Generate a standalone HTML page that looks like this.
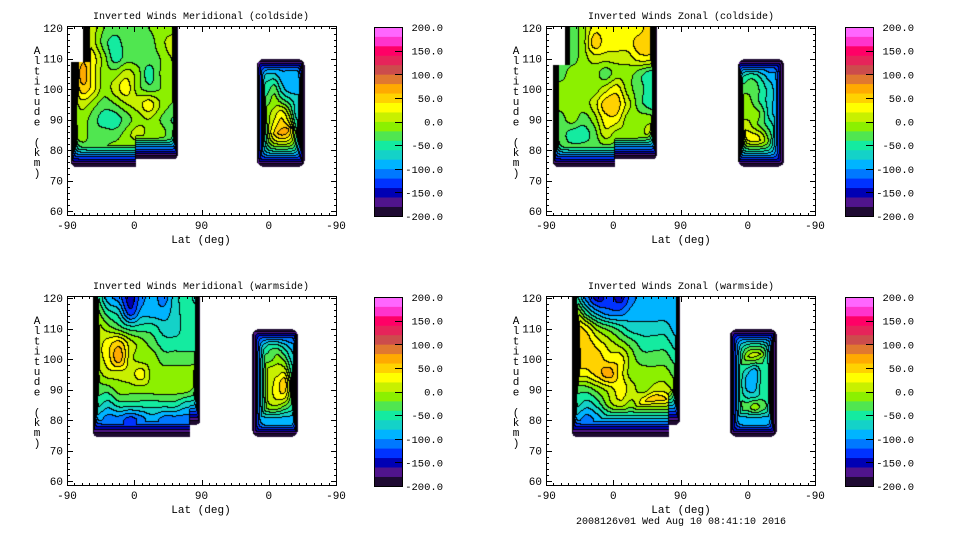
<!DOCTYPE html>
<html><head><meta charset="utf-8"><style>
html,body{margin:0;padding:0;background:#fff;}
#root{position:relative;width:960px;height:540px;overflow:hidden;background:#fff;font-family:"Liberation Mono","DejaVu Sans Mono",monospace;}
canvas{position:absolute;}
svg{position:absolute;left:0;top:0;}
</style></head><body>
<div id="root">
<svg id="svg" width="960" height="540"></svg>
</div>
<script>
// ---- shared scale data ----
const colorBands = ['#1e0a32','#50148c','#0000b4','#0032ff','#0078ff','#00b4ff','#14d2c8','#14eba0','#50e650','#8cf000','#c8f000','#ffff00','#ffd200','#ffaa00','#e07830','#cc4c4c','#e6245a','#ff0066','#ff33cc','#ff66ff'];
const cbarLabels = [200,150,100,50,0,-50,-100,-150,-200];
const yTicks = [60,70,80,90,100,110,120];
const xTickU = [0,90,180,270,360];
const xTickLabels = ['-90','0','90','0','-90'];
const panelTitles = ['Inverted Winds Meridional (coldside)','Inverted Winds Zonal (coldside)','Inverted Winds Meridional (warmside)','Inverted Winds Zonal (warmside)'];

// ---- TL: meridional coldside ----
const tlLeftU = [5,20,35,50,65,80,95,110,125,140,150];
const tlLeftAlt = [120,115,110,105,100,95,90,85,80];
const tlLeftVals = [
[-30,30,10,-20,-30,-20,-30,-20,-10,-10,-10],
[-30,30,10,-30,-50,-30,-30,-30,-10,10,10],
[-30,50,30,-10,-50,-30,-30,-30,-20,0,10],
[-30,70,30,-10,-10,10,-10,-50,-20,-10,-10],
[-30,50,30,-10,10,30,-10,-30,-20,-10,-10],
[-30,10,-10,-30,-20,0,10,30,0,-20,-20],
[-30,-10,-30,-50,-50,-30,-10,0,-20,-40,-40],
[-30,-10,-30,-30,-30,-10,10,-10,-10,-30,-30],
[-40,-30,-20,-20,-10,-10,-30,-40,-50,-50,-50]];
const tlRightU = [258,268,278,288,298,308];
const tlRightAlt = [108,104,100,96,92,88,84,80];
const tlRightVals = [
[-110,-110,-110,-110,-110,-110],
[-70,-70,-70,-90,-90,-90],
[-50,-50,-30,-70,-90,-90],
[-30,-30,-10,-30,-50,-70],
[-30,-10,10,30,-10,-70],
[-30,-10,30,50,30,-50],
[-30,10,50,90,110,-30],
[-30,10,50,70,50,-30]];

// ---- TR: zonal coldside ----
const trLeftU = [10,20,35,50,65,80,95,110,125,140,148];
const trLeftAlt = [120,115,110,105,100,95,90,85,80];
const trLeftVals = [
[-200,-50,-30,-10,30,30,30,20,30,50,30],
[-200,-50,-30,-10,50,30,30,30,50,50,30],
[-50,-30,-30,-10,10,10,10,10,30,30,10],
[-30,-30,-10,-10,-10,-30,-10,-10,-30,-50,-50],
[-10,-10,-10,-10,-10,10,30,-10,-30,-50,-50],
[-10,-10,-10,-10,10,50,50,10,-30,-50,-50],
[-30,-30,-10,-30,-10,30,30,-10,-10,-10,-30],
[-30,-30,-50,-50,-30,10,-10,-10,-10,10,30],
[-30,-30,-30,-30,-30,-30,-30,-30,-30,-30,-30]];
const trRightU = [260,270,280,290,300,310];
const trRightAlt = [108,104,100,96,92,88,84,80];
const trRightVals = [
[-120,-120,-120,-120,-120,-120],
[-70,-50,-50,-70,-90,-90],
[-30,-30,-30,-50,-70,-90],
[-10,-10,-30,-50,-70,-90],
[-10,-10,-10,-30,-70,-90],
[10,10,-10,-30,-50,-70],
[30,30,30,10,-30,-50],
[30,30,30,10,-10,-30]];

// ---- BL: meridional warmside ----
const blLeftU = [40,55,70,85,100,115,130,145,160,175];
const blLeftAlt = [120,115,110,105,100,95,90,85,80];
const blLeftVals = [
[-30,-90,-110,-150,-110,-90,-110,-70,-50,-70],
[-10,-50,-70,-130,-90,-90,-90,-70,-50,-50],
[10,-10,-30,-50,-50,-50,-70,-70,-50,-50],
[10,30,50,10,-10,-30,-50,-50,-50,-50],
[10,30,70,10,-10,-10,-30,-30,-30,-30],
[-10,10,10,10,30,-10,-10,-10,-10,-10],
[-30,-30,-10,-10,-10,-10,-10,-10,-10,-30],
[-50,-70,-50,-50,-50,-50,-50,-50,-70,-70],
[-90,-110,-110,-130,-110,-90,-110,-110,-110,-110]];
const blRightU = [252,262,272,282,292,302];
const blRightAlt = [108,104,100,96,92,88,84,80];
const blRightVals = [
[-130,-130,-130,-130,-130,-130],
[-70,-70,-50,-50,-70,-90],
[-50,-30,-30,-10,-30,-70],
[-30,-10,10,10,10,-50],
[-30,-10,10,30,50,-30],
[-30,-10,10,30,30,-30],
[-50,-30,-10,-10,-30,-50],
[-90,-90,-90,-90,-90,-90]];

// ---- BR: zonal warmside ----
const brLeftU = [40,55,70,85,100,115,130,145,160,175];
const brLeftAlt = [120,115,110,105,100,95,90,85,80];
const brLeftVals = [
[-50,-110,-150,-130,-150,-110,-90,-90,-90,-90],
[10,-50,-90,-110,-110,-90,-90,-90,-90,-90],
[50,30,-10,-30,-50,-70,-70,-70,-70,-90],
[50,50,30,10,-10,-30,-50,-50,-50,-70],
[50,50,50,30,30,-10,-30,-30,-30,-50],
[30,30,50,70,30,-10,-10,-10,-10,-30],
[-30,-30,-10,10,30,10,-10,10,10,-10],
[-50,-70,-50,-10,10,-10,30,70,50,-10],
[-90,-110,-90,-70,-70,-70,-70,-50,-50,-70]];
const brRightU = [250,260,270,280,290,300];
const brRightAlt = [108,104,100,96,92,88,84,80];
const brRightVals = [
[-130,-130,-130,-130,-130,-130],
[-50,-10,30,30,10,-50],
[-50,-30,-10,-10,-30,-70],
[-50,-50,-70,-90,-50,-50],
[-50,-50,-90,-90,-50,-50],
[-50,-50,-70,-70,-50,-50],
[-50,-30,-30,-10,-30,-50],
[-90,-90,-90,-90,-90,-90]];

const panels = [
 {X0:67,Y0:28,cb:374,lblR:443,tx:201,key:'meridional-coldside',blocks:[
  {U:tlLeftU,A:tlLeftAlt,V:tlLeftVals,u0:5.4,u1:148.6,a0:74.5,a1:130,stepU:92,stepA:77,notchA:109,notchU:22,kL:30,kR:40,kB:9,kT:999,r:5},
  {U:tlRightU,A:tlRightAlt,V:tlRightVals,u0:254,u1:318,a0:74.5,a1:109.8,kL:18,kR:22,kB:10,kT:10,r:7}]},
 {X0:546,Y0:28,cb:845,lblR:914,tx:681,key:'zonal-coldside',blocks:[
  {U:trLeftU,A:trLeftAlt,V:trLeftVals,u0:9.4,u1:148.6,a0:74.5,a1:130,stepU:92,stepA:77,notchA:108,notchU:25,kL:30,kR:40,kB:9,kT:999,r:5},
  {U:trRightU,A:trRightAlt,V:trRightVals,u0:257,u1:319,a0:74.5,a1:109.8,kL:35,kR:14,kB:10,kT:10,r:7}]},
 {X0:67,Y0:298,cb:374,lblR:443,tx:201,key:'meridional-warmside',blocks:[
  {U:blLeftU,A:blLeftAlt,V:blLeftVals,u0:35,u1:178,a0:74.5,a1:130,stepU:165,stepA:78.5,kL:30,kR:35,kB:7,kT:999,r:4},
  {U:blRightU,A:blRightAlt,V:blRightVals,u0:248,u1:309,a0:74.5,a1:109.8,kL:14,kR:30,kB:10,kT:10,r:7}]},
 {X0:546,Y0:298,cb:845,lblR:914,tx:681,key:'zonal-warmside',blocks:[
  {U:brLeftU,A:brLeftAlt,V:brLeftVals,u0:35,u1:179,a0:74.5,a1:130,stepU:165,stepA:78.5,kL:30,kR:35,kB:7,kT:999,r:4},
  {U:brRightU,A:brRightAlt,V:brRightVals,u0:246,u1:309,a0:74.5,a1:109.8,kL:14,kR:18,kB:10,kT:10,r:7}]}
];

const UPX = 269/360, APX = 3.05;
function cr(p0,p1,p2,p3,t){return 0.5*((2*p1)+(-p0+p2)*t+(2*p0-5*p1+4*p2-p3)*t*t+(-p0+3*p1-3*p2+p3)*t*t*t);}
function interp(b,u,alt){
  const U=b.U,A=b.A,V=b.V,nx=U.length,ny=A.length;
  let i=0; while(i<nx-2 && u>U[i+1]) i++;
  let tx=(u-U[i])/(U[i+1]-U[i]); tx=Math.max(0,Math.min(1,tx));
  let j=0; while(j<ny-2 && alt<A[j+1]) j++;
  let ty=(A[j]-alt)/(A[j]-A[j+1]); ty=Math.max(0,Math.min(1,ty));
  const ci=k=>Math.max(0,Math.min(nx-1,k)), cj=k=>Math.max(0,Math.min(ny-1,k));
  const rows=[];
  for(let dj=-1;dj<=2;dj++){const R=V[cj(j+dj)];rows.push(cr(R[ci(i-1)],R[ci(i)],R[ci(i+1)],R[ci(i+2)],tx));}
  return cr(rows[0],rows[1],rows[2],rows[3],ty);
}
function hex(h){return [parseInt(h.substr(1,2),16),parseInt(h.substr(3,2),16),parseInt(h.substr(5,2),16)];}
const rgb = colorBands.map(hex);

const svg=document.getElementById('svg'), root=document.getElementById('root');
const NS='http://www.w3.org/2000/svg';
function el(tag,attrs,parent){const e=document.createElementNS(NS,tag);for(const k in attrs)e.setAttribute(k,attrs[k]);(parent||svg).appendChild(e);return e;}
function txt(x,y,s,anchor,size,parent){const t=el('text',{x:x,y:y,'text-anchor':anchor,'font-size':size||10,'font-family':'Liberation Mono, monospace',fill:'#000'},parent);t.textContent=s;return t;}

panels.forEach((p,pi)=>{
  const xOf=u=>p.X0+u*UPX, yOf=a=>p.Y0+(120-a)*APX;
  const bx0=p.X0, by0=p.Y0-2, W=270, H=190;
  const cv=document.createElement('canvas'); cv.width=W; cv.height=H;
  cv.style.left=bx0+'px'; cv.style.top=by0+'px';
  
  
  root.insertBefore(cv,svg);
  const ctx=cv.getContext('2d'); const img=ctx.createImageData(W,H);
  const band=new Int16Array(W*H).fill(-1);
  const P=3;
  for(let py=0;py<H;py++)for(let px=0;px<W;px++){
    const X=bx0+px+0.5, Y=by0+py+0.5;
    const u=(X-p.X0)/UPX, alt=120-(Y-p.Y0)/APX;
    for(const b of p.blocks){
      const lu=(b.notchA!=null&&alt>b.notchA)?b.notchU:b.u0;
      const ba=(b.stepU!=null&&u>b.stepU)?b.stepA:b.a0;
      const dL=(u-lu)*UPX,dR=(b.u1-u)*UPX,dB=(alt-ba)*APX,dT=(b.a1-alt)*APX;
      if(dL<0||dR<0||dB<0||dT<0)continue;
      const r=b.r; let out=false;
      const cs=[[dL,dB],[dR,dB],[dL,dT],[dR,dT]];
      for(const [a,c] of cs){ if(a<r&&c<r&&(r-a)*(r-a)+(r-c)*(r-c)>r*r) out=true; }
      if(out)continue;
      const fs=[dL*b.kL+0.01,dR*b.kR+0.01,dB*b.kB+0.01,dT*b.kT+0.01];
      let s=0; fs.forEach(x=>{s+=Math.pow(x,-P);});
      const f=Math.pow(s,-1/P);
      const v=Math.min(interp(b,u,alt),-205+f);
      band[py*W+px]=Math.max(0,Math.min(19,Math.floor((v+200)/20)));
      break;
    }
  }
  for(let py=0;py<H;py++)for(let px=0;px<W;px++){
    const k=py*W+px, bd=band[k]; if(bd<0)continue;
    let line=false;
    if(px+1<W&&band[k+1]>=0&&band[k+1]!==bd)line=true;
    if(py+1<H&&band[k+W]>=0&&band[k+W]!==bd)line=true;
    const c=line?[0,0,0]:rgb[bd];
    img.data[k*4]=c[0];img.data[k*4+1]=c[1];img.data[k*4+2]=c[2];img.data[k*4+3]=255;
  }
  ctx.putImageData(img,0,0);

  // axes
  const g=el('g',{});
  
  
  const top=p.Y0-2, bot=p.Y0+187, L=p.X0, R=p.X0+269;
  el('rect',{x:L+0.5,y:top+0.5,width:R-L,height:bot-top,fill:'none',stroke:'#000','stroke-width':1},g);
  for(let a=60;a<=120;a+=2){
    const y=Math.round(yOf(a))+0.5, len=(a%10===0)?6:3;
    el('line',{x1:L,y1:y,x2:L+len,y2:y,stroke:'#000'},g);
    el('line',{x1:R+1,y1:y,x2:R+1-len,y2:y,stroke:'#000'},g);
  }
  for(let u=0;u<=360;u+=10){
    const x=Math.round(xOf(u))+0.5, len=(u%90===0)?6:3;
    el('line',{x1:x,y1:bot+1,x2:x,y2:bot+1-len,stroke:'#000'},g);
    el('line',{x1:x,y1:top,x2:x,y2:top+len,stroke:'#000'},g);
  }
  yTicks.forEach(a=>{const t=txt(L-4,yOf(a)+4,String(a),'end',11,g);
    
    });
  xTickU.forEach((u,i)=>{const t=txt(xOf(u),bot+14,xTickLabels[i],'middle',11,g);
    
    });
  const xt=txt(p.tx,bot+28,'Lat (deg)','middle',11,g);
  
  
  const tt=txt(p.tx,p.Y0-9,panelTitles[pi],'middle',10,g);
  
  
  const yt=el('text',{'font-size':11,'font-family':'Liberation Mono, monospace','text-anchor':'middle',fill:'#000'},g);
  
  
  const ytx=p.X0-30;
  'Altitude (km)'.split('').forEach((ch,i)=>{const s=el('tspan',{x:ytx,y:p.Y0+26+i*10.2},yt);s.textContent=ch===' '?'\u00a0':ch;});

  // colorbar
  const cg=el('g',{});
  
  
  const cT=top+1, cB=bot+1, cw=28, bh=(cB-cT)/colorBands.length;
  const vy=v=>cB-(v+200)/400*(cB-cT);
  colorBands.forEach((c,i)=>{el('rect',{x:p.cb,y:vy(-200+20*(i+1)),width:cw,height:bh+0.4,fill:c},cg);});
  el('rect',{x:p.cb+0.5,y:cT+0.5,width:cw,height:cB-cT,fill:'none',stroke:'#000'},cg);
  cbarLabels.forEach(v=>{
    if(v>-200&&v<200)el('line',{x1:p.cb+cw-7,y1:Math.round(vy(v))+0.5,x2:p.cb+cw,y2:Math.round(vy(v))+0.5,stroke:'#000'},cg);
    const t=txt(p.lblR,vy(v)+4,v.toFixed(1),'end',10.5,cg);
    
    
  });
});
const ft=txt(681,524,'2008126v01 Wed Aug 10 08:41:10 2016','middle',10);


</script>
</body></html>
